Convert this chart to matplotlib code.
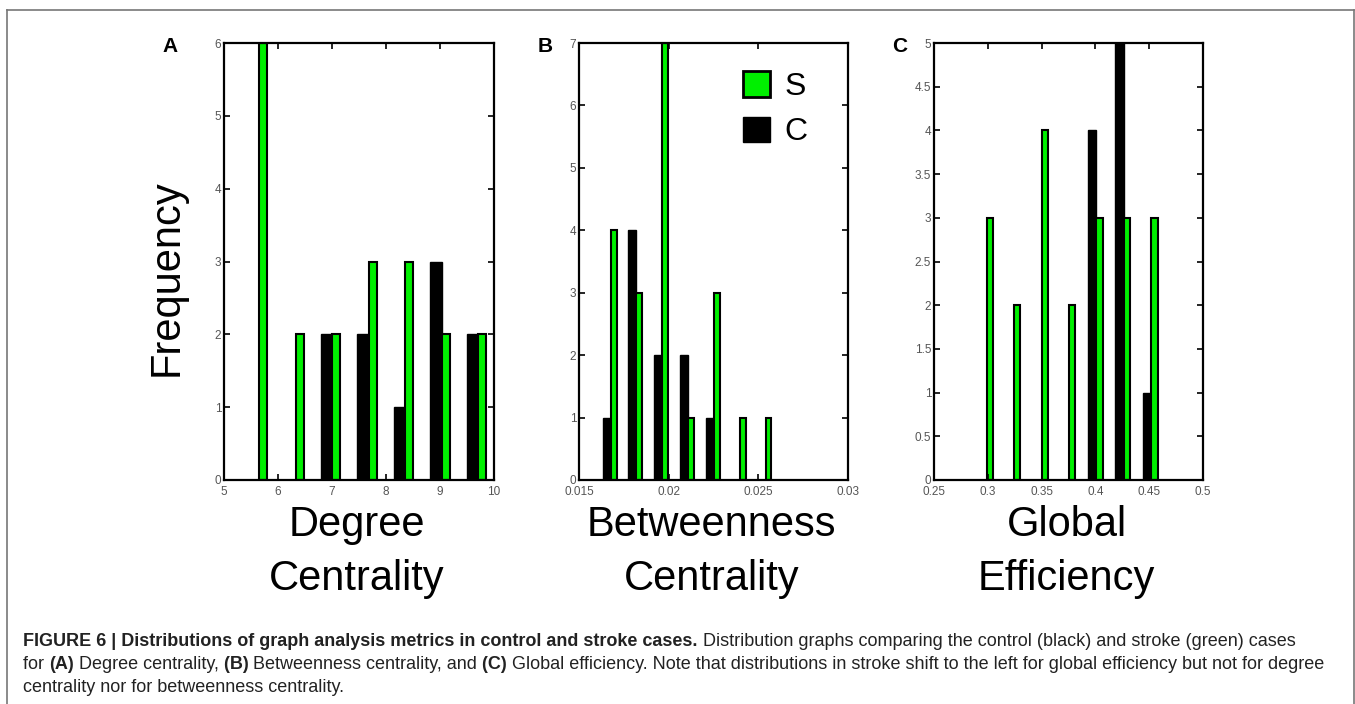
import numpy as np
import matplotlib
matplotlib.use("Agg")
import matplotlib.pyplot as plt
from matplotlib.patches import Patch
from matplotlib.lines import Line2D

plt.rcParams['font.family'] = ['Liberation Sans', 'DejaVu Sans']

# histogram bins (bin centres, counts)
deg_centers = [5.65, 6.33, 7.0, 7.68, 8.35, 9.03, 9.7]
deg_stroke = [6, 2, 2, 3, 3, 2, 2]
deg_control = [0, 0, 2, 2, 1, 3, 2]

bet_centers = [0.01678, 0.0182, 0.01964, 0.02108, 0.02252, 0.02396, 0.0254]
bet_stroke = [4, 3, 7, 1, 3, 1, 1]
bet_control = [1, 4, 2, 2, 1, 0, 0]

eff_centers = [0.299, 0.3245, 0.350, 0.3755, 0.401, 0.4265, 0.452]
eff_stroke = [3, 2, 4, 2, 3, 3, 3]
eff_control = [0, 0, 0, 0, 4, 5, 1]

GREEN = '#00f000'

W, H = 1355, 704
fig = plt.figure(figsize=(W / 100, H / 100), dpi=100)


def panel(rect, centers, control, stroke, xlim, xticks, ylim, yticks, xlabel):
    ax = fig.add_axes(rect)
    centers = np.array(centers)
    step = np.diff(centers).mean()
    ax.bar(centers, control, width=-0.31 * step, align='edge',
           color='black', edgecolor='black', linewidth=1)
    ax.bar(centers, stroke, width=0.23 * step, align='edge',
           color=GREEN, edgecolor='black', linewidth=1.5)
    ax.set_xlim(xlim)
    ax.set_ylim(ylim)
    ax.set_xticks(xticks)
    ax.set_yticks(yticks)
    ax.set_xticklabels([('%g' % t) for t in xticks])
    ax.set_yticklabels([('%g' % t) for t in yticks])
    ax.tick_params(direction='in', top=True, right=True, length=4, width=1.2,
                   labelsize=8.5, labelcolor='#555555', pad=2)
    ax.tick_params(axis='x', pad=4)
    for s in ax.spines.values():
        s.set_linewidth(1.6)
    x0, y0, w, h = rect
    fig.text(x0 + w / 2 - 2 / W, 1 - 505 / H, xlabel, ha='center', va='top',
             fontsize=30, linespacing=1.45)
    return ax


def frac(left, right, top=43, bottom=480):
    return [left / W, 1 - bottom / H, (right - left) / W, (bottom - top) / H]


axA = panel(frac(224, 494), deg_centers, deg_control, deg_stroke,
            (5, 10), [5, 6, 7, 8, 9, 10], (0, 6), range(0, 7),
            'Degree\nCentrality')
axB = panel(frac(579, 848), bet_centers, bet_control, bet_stroke,
            (0.015, 0.03), [0.015, 0.02, 0.025, 0.03], (0, 7), range(0, 8),
            'Betweenness\nCentrality')
axC = panel(frac(934, 1203), eff_centers, eff_control, eff_stroke,
            (0.25, 0.5), [0.25, 0.3, 0.35, 0.4, 0.45, 0.5], (0, 5),
            np.arange(0, 5.5, 0.5), 'Global\nEfficiency')

axB.legend(handles=[Patch(facecolor=GREEN, edgecolor='black', linewidth=2),
                    Patch(facecolor='black', edgecolor='black')],
           labels=['S', 'C'], loc='upper left', bbox_to_anchor=(0.61, 0.935),
           fontsize=23, frameon=False, handlelength=0.85, handleheight=0.85,
           handletextpad=0.45, labelspacing=0.45, borderaxespad=0,
           borderpad=0)

fig.text(167 / W, 1 - 278 / H, 'Frequency', rotation=90, ha='center',
         va='center', fontsize=30)

for letter, x in [('A', 170), ('B', 545), ('C', 900)]:
    fig.text(x / W, 1 - 47 / H, letter, ha='center', va='center',
             fontsize=15, fontweight='bold')

# outer frame (open at the bottom)
frame = dict(color='#777777', linewidth=1.2, transform=fig.transFigure)
fig.add_artist(Line2D([7.5 / W, 7.5 / W], [0, 1 - 10 / H], **frame))
fig.add_artist(Line2D([7.5 / W, 1353.5 / W], [1 - 10 / H, 1 - 10 / H], **frame))
fig.add_artist(Line2D([1353.5 / W, 1353.5 / W], [0, 1 - 10 / H], **frame))

# caption, built from bold / normal runs
caption = [
    [("FIGURE 6 | Distributions of graph analysis metrics in control and stroke cases.", 'bold'),
     (" Distribution graphs comparing the control (black) and stroke (green) cases", 'normal')],
    [("for ", 'normal'), ("(A)", 'bold'), (" Degree centrality,", 'normal'), (" (B)", 'bold'),
     (" Betweenness centrality, and", 'normal'), (" (C)", 'bold'),
     (" Global efficiency. Note that distributions in stroke shift to the left for global efficiency but not for degree", 'normal')],
    [("centrality nor for betweenness centrality.", 'normal')],
]
renderer = fig.canvas.get_renderer()
baselines = [646, 669, 692]
for line, base in zip(caption, baselines):
    x = 23
    for txt, weight in line:
        t = fig.text(x / W, 1 - base / H, txt, ha='left', va='baseline',
                     fontsize=12.95, fontweight=weight, color='#222222')
        x += t.get_window_extent(renderer).width

fig.savefig('out.png', dpi=100)
